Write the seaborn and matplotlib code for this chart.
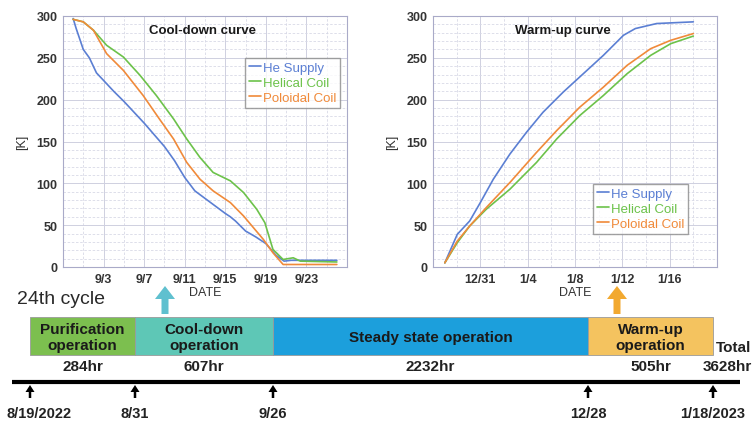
import pandas as pd
import matplotlib
matplotlib.use("Agg")
import matplotlib.pyplot as plt
import matplotlib.dates as mdates
import matplotlib.patches as mpatches
from matplotlib.ticker import MultipleLocator
import seaborn as sns

# --- data -------------------------------------------------------------
series_names = ["He Supply", "Helical Coil", "Poloidal Coil"]
series_colors = ["#5b7fd3", "#6cc24a", "#f08a3a"]

# cool-down curve: days after 8/31/2022, temperature [K]
cool_start = "2022-08-31"
cool_he_days = [0, 0.3, 1.0, 1.6, 2.3, 3.0, 4.0, 5.0, 6.0, 7.0, 8.0, 9.0, 10.0, 11.0,
                12.0, 13.0, 14.0, 15.0, 15.5, 16.0, 17.0, 18.0, 19.0, 20.0, 20.8,
                21.5, 23.0, 26.0]
cool_he_temp = [297, 285, 260, 250, 232, 223, 210, 198, 185, 172, 158, 144, 127, 107,
                91, 82, 73, 64, 60, 55, 43, 36, 28, 14, 7, 8, 8, 8]
cool_hel_days = [0, 1.0, 2.0, 3.3, 4.95, 6.6, 8.2, 9.9, 11.2, 12.5, 13.8, 15.5, 16.8,
                 18.1, 18.9, 19.7, 20.7, 21.7, 22.4, 26.0]
cool_hel_temp = [296, 293, 283, 265, 251, 229, 205, 177, 153, 131, 113, 103, 89,
                 69, 53, 21, 9, 11, 7, 6]
cool_pol_days = [0, 1.0, 2.0, 3.3, 4.95, 6.9, 8.5, 9.9, 11.2, 12.5, 13.8, 15.5, 16.8,
                 18.75, 19.7, 20.7, 23.0, 26.0]
cool_pol_temp = [296, 293, 283, 255, 235, 205, 177, 153, 125, 105, 91, 77, 61,
                 33, 17, 3, 3, 3]
cool_ticks = ["2022-09-03", "2022-09-07", "2022-09-11", "2022-09-15", "2022-09-19", "2022-09-23"]
cool_xlim = ["2022-08-30", "2022-09-27"]

# warm-up curve: days after 12/28/2022
warm_start = "2022-12-28"
warm_he_days = [0, 1.05, 2.1, 3.0, 4.1, 5.5, 6.9, 8.3, 10.0, 11.7, 13.4, 15.1, 16.1, 17.9, 21.0]
warm_he_temp = [5, 39, 55, 77, 105, 135, 161, 185, 209, 231, 253, 277, 285, 291, 293]
warm_hel_days = [0, 1.05, 2.1, 3.5, 5.5, 7.75, 9.45, 11.4, 13.4, 15.4, 17.4, 19.1, 21.0]
warm_hel_temp = [5, 29, 49, 69, 93, 125, 153, 181, 205, 231, 253, 267, 276]
warm_pol_days = [0, 1.05, 2.1, 3.5, 5.5, 7.75, 9.45, 11.4, 13.4, 15.4, 17.4, 19.1, 21.0]
warm_pol_temp = [5, 31, 49, 71, 101, 137, 163, 191, 215, 241, 261, 271, 279]
warm_ticks = ["2022-12-31", "2023-01-04", "2023-01-08", "2023-01-12", "2023-01-16"]
warm_xlim = ["2022-12-27", "2023-01-20"]

# operation cycle
stage_labels = ["Purification\noperation", "Cool-down\noperation",
                "Steady state operation", "Warm-up\noperation"]
stage_hours = ["284hr", "607hr", "2232hr", "505hr"]
stage_colors = ["#7cbf4f", "#5ec7b6", "#1c9fdc", "#f4c35f"]
total_hours = "3628hr"
milestone_labels = ["8/19/2022", "8/31", "9/26", "12/28", "1/18/2023"]

# --- style ------------------------------------------------------------
sns.set_style("white")
plt.rcParams["font.family"] = ["Liberation Sans", "DejaVu Sans"]


def make_frame(start, parts):
    rows = []
    for name, (days, temps) in zip(series_names, parts):
        dates = pd.Timestamp(start) + pd.to_timedelta(days, unit="D")
        rows.append(pd.DataFrame({"date": dates, "K": temps, "series": name}))
    return pd.concat(rows, ignore_index=True)


def draw_curve(ax, df, ticks, xlim, title, title_x, leg_anchor):
    sns.lineplot(data=df, x="date", y="K", hue="series", palette=series_colors,
                 linewidth=1.2, ax=ax, estimator=None, sort=False)
    ax.set_xlim(pd.Timestamp(xlim[0]), pd.Timestamp(xlim[1]))
    ax.set_ylim(0, 300)
    ax.set_xticks(pd.to_datetime(ticks))
    minor = pd.date_range(xlim[0], xlim[1], freq="2D")
    ax.set_xticks(minor, minor=True)
    ax.xaxis.set_major_formatter(mdates.DateFormatter("%-m/%-d"))
    ax.yaxis.set_major_locator(MultipleLocator(50))
    ax.yaxis.set_minor_locator(MultipleLocator(10))
    ax.grid(True, which="major", color="#cfd0e0", linewidth=0.7)
    ax.grid(True, which="minor", color="#d8d9e6", linewidth=0.6, linestyle=(0, (3, 2)))
    ax.tick_params(which="both", length=0, labelsize=9, labelcolor="#333333", pad=4)
    for lab in ax.get_xticklabels() + ax.get_yticklabels():
        lab.set_fontweight("bold")
    for sp in ax.spines.values():
        sp.set_color("#a9aac8")
        sp.set_linewidth(0.8)
    ax.set_xlabel("DATE", fontsize=9, color="#333333", labelpad=1)
    ax.set_ylabel("[K]", fontsize=9, color="#333333", labelpad=6)
    ax.text(title_x, 0.945, title, transform=ax.transAxes, ha="center", va="center",
            fontsize=9.5, fontweight="bold", color="#1a1a1a")
    sns.move_legend(ax, "upper left", bbox_to_anchor=leg_anchor, title=None,
                    frameon=True, fancybox=False, fontsize=9.5, handlelength=0.9,
                    handletextpad=0.15, borderpad=0.3, labelspacing=0.2,
                    borderaxespad=0)
    leg = ax.get_legend()
    leg.get_frame().set_edgecolor("#8a8a8a")
    leg.get_frame().set_linewidth(1.0)
    for txt, c in zip(leg.get_texts(), series_colors):
        txt.set_color(c)


fig = plt.figure(figsize=(7.53, 4.27), dpi=100)

# schematic layer in pixel units
lay = fig.add_axes([0, 0, 1, 1])
lay.set_xlim(0, 753)
lay.set_ylim(427, 0)
lay.axis("off")
lay.patch.set_alpha(0)

ax1 = fig.add_axes([63 / 753, 1 - 268 / 427, 284 / 753, 251 / 427])
ax2 = fig.add_axes([433 / 753, 1 - 268 / 427, 284 / 753, 251 / 427])

cool_df = make_frame(cool_start, [(cool_he_days, cool_he_temp),
                                  (cool_hel_days, cool_hel_temp),
                                  (cool_pol_days, cool_pol_temp)])
warm_df = make_frame(warm_start, [(warm_he_days, warm_he_temp),
                                  (warm_hel_days, warm_hel_temp),
                                  (warm_pol_days, warm_pol_temp)])

draw_curve(ax1, cool_df, cool_ticks, cool_xlim, "Cool-down curve", 0.49, (0.641, 0.833))
draw_curve(ax2, warm_df, warm_ticks, warm_xlim, "Warm-up curve", 0.458, (0.563, 0.331))

# --- cycle diagram ------------------------------------------------------
edges = [30, 135, 273, 588, 713]
bar_top, bar_bot = 318, 356

lay.text(17, 300, "24th cycle", fontsize=14, color="#2a2a2a", va="center", ha="left")

for i, (lab, hrs, col) in enumerate(zip(stage_labels, stage_hours, stage_colors)):
    x0, x1 = edges[i], edges[i + 1]
    lay.add_patch(mpatches.Rectangle((x0, bar_top), x1 - x0, bar_bot - bar_top,
                                     facecolor=col, edgecolor="#9a9a9a", linewidth=0.6))
    lay.text((x0 + x1) / 2, (bar_top + bar_bot) / 2 + 1, lab, ha="center", va="center",
             fontsize=11, fontweight="bold", color="#1a1a1a", linespacing=1.1)
    lay.text((x0 + x1) / 2, 367, hrs, ha="center", va="center", fontsize=11,
             fontweight="bold", color="#222222")

lay.text(734, 348, "Total", ha="center", va="center", fontsize=11,
         fontweight="bold", color="#222222")
lay.text(752, 367, total_hours, ha="right", va="center", fontsize=11,
         fontweight="bold", color="#222222")

# colored arrows pointing to the curves
for ax_x, col in [(165, "#5fc0cf"), (617, "#f2a930")]:
    lay.add_patch(mpatches.FancyArrow(ax_x, 315, 0, -28, width=7, head_width=20,
                                      head_length=13, length_includes_head=True,
                                      color=col, linewidth=0))

# timeline
lay.plot([12, 740], [383, 383], color="black", linewidth=3, solid_capstyle="butt")
for i, (x, lab) in enumerate(zip(edges, milestone_labels)):
    lay.add_patch(mpatches.FancyArrow(x, 399, 0, -13, width=2.5, head_width=9,
                                      head_length=7, length_includes_head=True,
                                      color="black", linewidth=0))
    lx, ha = (7, "left") if i == 0 else (x, "center")
    lay.text(lx, 414, lab, ha=ha, va="center", fontsize=10.5, fontweight="bold",
             color="#222222")

fig.savefig("out.png", dpi=100)
